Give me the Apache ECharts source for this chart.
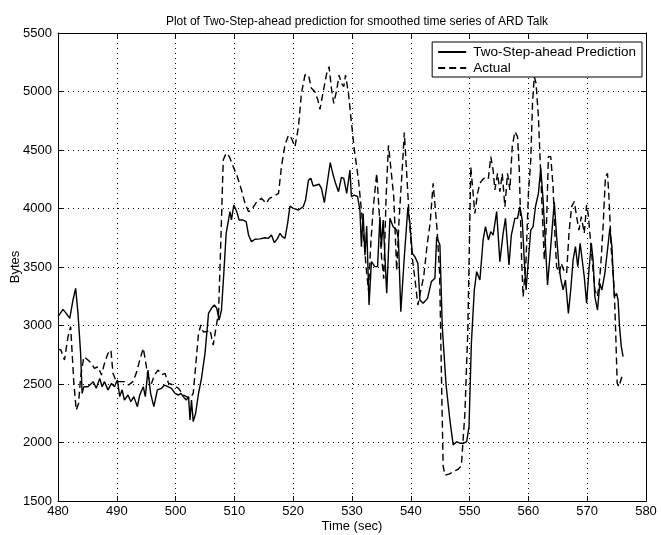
<!DOCTYPE html>
<html>
<head>
<meta charset="utf-8">
<script src="https://cdn.jsdelivr.net/npm/echarts@6/dist/echarts.min.js"></script>
<style>html,body{margin:0;padding:0;background:#fff;}#c{width:661px;height:535px;}</style>
</head>
<body>
<div id="c"></div>
<script>
const titleText = 'Plot of Two-Step-ahead prediction for smoothed time series of ARD Talk';
const seriesNames = ['Two-Step-ahead Prediction', 'Actual'];
const xTicks = [480, 490, 500, 510, 520, 530, 540, 550, 560, 570, 580];
const yTicks = [1500, 2000, 2500, 3000, 3500, 4000, 4500, 5000, 5500];

const predT = [480.0,480.85,481.4,482.0,482.55,483.0,483.4,483.85,484.1,484.4,485.1,486.0,486.5,487.1,487.5,487.9,488.5,489.1,489.6,490.1,490.5,490.9,491.3,491.9,492.4,492.9,493.5,493.9,494.5,494.85,495.3,495.75,496.3,496.9,497.6,498.1,498.7,499.3,499.9,500.5,500.9,501.3,501.8,502.2,502.45,502.7,503.0,503.4,503.9,504.4,505.0,505.6,506.1,506.6,507.0,507.4,507.8,508.2,508.6,509.0,509.25,509.5,509.9,510.4,510.8,511.4,512.0,512.4,512.9,513.5,514.35,515.2,515.8,516.3,516.8,517.35,517.75,518.15,518.6,519.05,519.45,520.0,520.9,521.7,522.1,522.6,523.0,523.4,524.0,524.4,524.8,525.3,525.7,526.3,526.8,527.2,527.7,528.2,528.6,529.1,529.65,529.9,530.4,530.95,531.35,531.6,531.9,532.2,532.5,532.9,533.3,533.9,534.35,534.75,535.0,535.3,535.9,536.45,537.0,537.6,537.9,538.3,538.9,539.5,539.85,540.25,540.7,541.2,541.55,542.1,542.85,543.5,544.1,544.4,544.95,545.35,546.0,546.65,547.2,547.8,548.4,548.9,549.5,549.9,550.3,550.8,551.2,551.75,552.3,552.7,553.2,553.6,554.0,554.6,555.15,555.7,556.1,556.7,557.1,557.7,558.15,558.55,558.95,559.3,559.6,560.0,560.4,560.8,561.2,561.7,562.1,562.5,562.8,563.25,563.8,564.4,564.8,565.2,565.5,565.9,566.3,566.8,567.2,567.6,568.0,568.4,568.8,569.15,569.5,569.9,570.3,570.7,571.0,571.3,571.75,572.15,572.5,573.0,573.45,573.85,574.2,574.6,575.0,575.25,575.5,575.8,576.1];
const predV = [3075,3138,3104,3061,3218,3317,3104,2760,2420,2477,2477,2520,2463,2548,2477,2520,2450,2505,2477,2534,2392,2450,2363,2406,2349,2392,2306,2406,2477,2392,2619,2420,2306,2450,2463,2491,2477,2463,2420,2406,2420,2392,2363,2392,2192,2363,2178,2249,2420,2548,2762,3104,3147,3175,3147,3047,3132,3446,3788,3902,3973,3902,4030,3973,3902,3902,3888,3774,3717,3737,3740,3750,3745,3773,3708,3745,3788,3759,3745,3873,4021,4001,3987,4015,4072,4243,4258,4192,4201,4209,4172,4050,4186,4392,4286,4215,4144,4266,4258,4129,4329,4101,4115,4101,3987,3674,3958,3600,3850,3175,3546,3503,3503,3930,3674,3902,3275,3916,3845,3816,3731,3118,3588,4010,3873,3617,3588,3531,3218,3190,3232,3375,3403,3759,3688,2990,2491,2192,1979,2007,1993,1993,2007,2135,2847,3303,3460,3389,3731,3845,3731,3802,3773,3973,3545,3788,3916,3517,3773,3916,3916,4015,3901,3560,3303,3560,3816,3845,4015,4129,4343,4072,3788,3346,3674,4058,3759,3503,3400,3304,3389,3104,3304,3560,3674,3503,3702,3560,3417,3190,3474,3702,3560,3247,3132,3360,3304,3446,3645,3830,3674,3247,3275,3218,2990,2819,2734];

const actT = [480.0,480.5,481.1,481.7,482.15,482.7,483.1,483.5,483.85,484.4,485.1,485.7,486.2,486.8,487.4,487.9,488.5,489.0,489.35,489.9,490.5,491.3,492.0,492.75,493.3,493.9,494.5,494.85,495.3,495.9,496.4,497.0,497.7,498.2,498.8,499.6,500.5,501.3,502.45,503.0,503.5,503.9,504.3,504.7,505.3,505.85,506.4,506.9,507.3,507.7,508.1,508.6,509.15,509.8,510.5,511.2,511.8,512.4,512.9,513.8,514.6,515.4,515.95,516.6,517.5,518.0,518.6,519.2,519.7,520.3,520.9,521.4,522.0,522.6,523.1,523.7,524.2,524.55,525.1,525.7,526.1,526.5,526.9,527.4,527.8,528.2,528.6,528.9,529.4,529.8,530.4,530.8,531.1,531.6,532.0,532.4,532.8,533.2,533.6,534.2,534.6,535.0,535.4,535.8,536.2,536.7,537.1,537.6,538.0,538.5,538.9,539.3,539.7,540.2,540.7,541.2,541.7,542.2,542.8,543.3,543.8,544.1,544.5,544.9,545.2,545.5,545.8,546.5,547.2,548.0,548.6,549.2,549.7,550.0,550.2,550.45,550.9,551.35,551.75,552.15,552.7,553.2,553.6,554.0,554.3,554.75,555.15,555.55,556.0,556.45,556.85,557.25,557.7,558.15,558.45,558.85,559.1,559.6,560.0,560.4,560.7,561.0,561.3,561.7,561.95,562.35,562.7,563.1,563.4,563.8,564.2,564.5,564.8,565.25,565.6,566.0,566.5,566.9,567.35,567.8,568.2,568.6,569.0,569.5,569.9,570.2,570.45,570.85,571.3,571.75,572.15,572.4,572.7,573.1,573.45,573.7,574.1,574.6,574.85,575.1,575.4,575.9];
const actV = [2800,2790,2705,2904,2990,2505,2277,2334,2562,2733,2705,2676,2634,2648,2577,2676,2762,2790,2591,2520,2520,2520,2491,2520,2591,2705,2805,2705,2562,2505,2577,2619,2580,2591,2506,2491,2463,2406,2377,2420,2705,2933,3004,2947,2947,2962,2833,2990,3104,3731,4415,4472,4443,4358,4272,4158,4044,3973,3987,4058,4087,4044,4087,4101,4129,4357,4542,4628,4600,4528,4699,4984,5141,5141,5027,4998,4927,4847,4998,5155,5212,5027,4899,5012,5141,5069,5041,5141,4984,4785,4500,4357,4243,3987,3750,3500,3300,3700,4000,4300,3990,3600,3400,4100,4540,4300,4100,3470,3900,4300,4650,4300,3950,3600,3400,3175,3300,3420,3700,3880,4215,4230,3800,3450,2600,1800,1720,1730,1750,1770,1800,2250,2960,3800,4357,4215,3958,4129,4215,4243,4272,4258,4443,4329,4158,4300,4144,4300,4015,4300,4158,4528,4656,4614,4329,3560,3246,3560,4129,4414,4899,5127,5070,4785,4471,3987,3560,3901,4443,4443,4186,3788,3503,3446,3531,3474,3446,3788,4016,4060,3930,3816,3930,3788,4030,3944,3788,3560,3304,3247,3417,3588,3845,4272,4300,4100,3645,3304,2933,2506,2477,2563];

const predData = predT.map((t, i) => [t, predV[i]]);
const actData = actT.map((t, i) => [t, actV[i]]);

const font = 'Liberation Sans, Arial, Helvetica, sans-serif';
const xMin = xTicks[0], xMax = xTicks[xTicks.length - 1];
const yMin = yTicks[0], yMax = yTicks[yTicks.length - 1];
const plain = v => String(v);

const chart = echarts.init(document.getElementById('c'), null, {renderer: 'canvas'});
const baseAxis = {
  type: 'value',
  axisLine: {show: true, lineStyle: {color: '#000', width: 1}},
  axisTick: {show: true, inside: true, length: 5, lineStyle: {color: '#000'}},
};
chart.setOption({
  animation: false,
  backgroundColor: '#fff',
  title: {
    text: titleText, left: 352, top: 11, textAlign: 'center',
    textStyle: {fontFamily: font, fontSize: 12, fontWeight: 'normal', color: '#000'}
  },
  legend: {
    orient: 'vertical', right: 19, top: 42,
    data: seriesNames,
    backgroundColor: '#fff', borderColor: '#000', borderWidth: 1,
    padding: [3, 6, 2, 5], itemGap: 2, itemWidth: 28, itemHeight: 12,
    itemStyle: {color: 'transparent', borderWidth: 0, opacity: 0},
    textStyle: {fontFamily: font, fontSize: 13.5, color: '#000', padding: [0, 0, 0, 2]}
  },
  grid: {left: 58, right: 15, top: 33, bottom: 34, containLabel: false, outerBoundsMode: 'none'},
  xAxis: [
    Object.assign({}, baseAxis, {
      min: xMin, max: xMax, interval: 10, position: 'bottom',
      name: 'Time (sec)', nameLocation: 'middle', nameGap: 19, nameMoveOverlap: false,
      nameTextStyle: {fontFamily: font, fontSize: 13, color: '#000'},
      axisLabel: {fontFamily: font, fontSize: 13, color: '#000', margin: 4, formatter: plain},
      splitLine: {show: true, lineStyle: {color: '#000', type: [1, 4], width: 1}}
    }),
    Object.assign({}, baseAxis, {
      min: xMin, max: xMax, interval: 10, position: 'top',
      axisLabel: {show: false}, splitLine: {show: false}
    })
  ],
  yAxis: [
    Object.assign({}, baseAxis, {
      min: yMin, max: yMax, interval: 500, position: 'left',
      name: 'Bytes', nameLocation: 'middle', nameGap: 36, nameRotate: 90, nameMoveOverlap: false,
      nameTextStyle: {fontFamily: font, fontSize: 13, color: '#000'},
      axisLabel: {fontFamily: font, fontSize: 13, color: '#000', margin: 6, formatter: plain},
      splitLine: {show: true, lineStyle: {color: '#000', type: [1, 4], width: 1}}
    }),
    Object.assign({}, baseAxis, {
      min: yMin, max: yMax, interval: 500, position: 'right',
      axisLabel: {show: false}, splitLine: {show: false}
    })
  ],
  series: [
    {
      name: seriesNames[0], type: 'line', data: predData, symbol: 'none',
      xAxisIndex: 0, yAxisIndex: 0,
      lineStyle: {color: '#000', width: 1.4, type: 'solid'},
      itemStyle: {color: '#000'}
    },
    {
      name: seriesNames[1], type: 'line', data: actData, symbol: 'none',
      xAxisIndex: 0, yAxisIndex: 0,
      lineStyle: {color: '#000', width: 1.4, type: [7, 4]},
      itemStyle: {color: '#000'}
    }
  ]
});
</script>
</body>
</html>
